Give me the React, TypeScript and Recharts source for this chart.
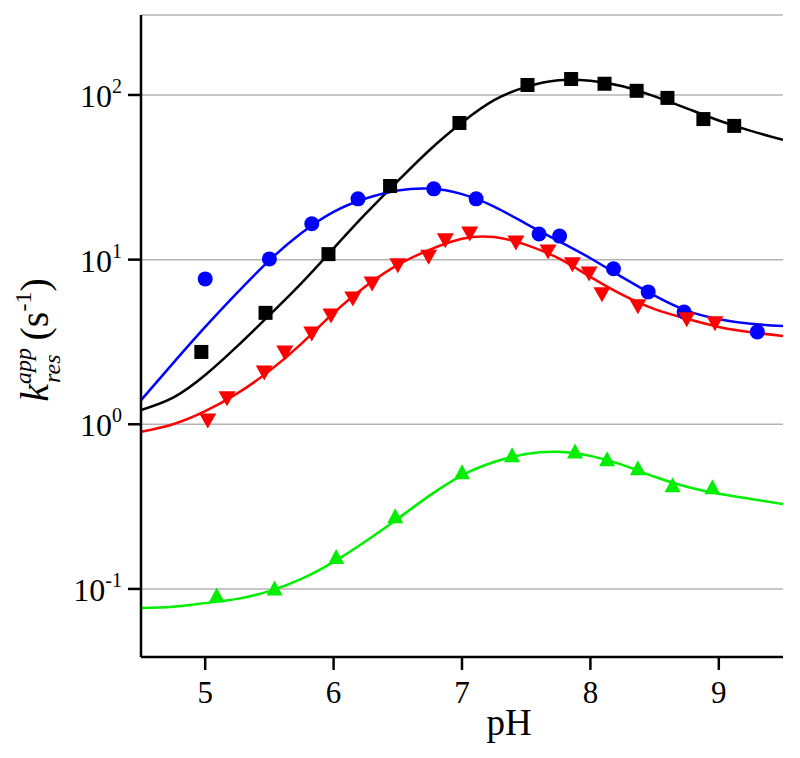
import { ComposedChart, Line, Scatter, XAxis, YAxis, CartesianGrid } from 'recharts';

// pH grid used for the fitted curves
const curvePH = [4.5, 4.75, 5, 5.25, 5.5, 5.75, 6, 6.25, 6.5, 6.75, 7, 7.25, 7.5, 7.75, 8, 8.25, 8.5, 8.75, 9, 9.25, 9.5];

const blackCurve = [1.22, 1.45, 1.99, 2.98, 4.6, 7.2, 11.7, 19, 30, 46.5, 68, 93, 112, 123, 122, 113, 98, 83, 70, 60.5, 53.4];
const blueCurve = [1.4, 2.35, 3.9, 6.3, 9.9, 14.5, 19.5, 23.5, 26.3, 27, 25, 21, 16.5, 13.0, 10.2, 7.8, 6.05, 4.9, 4.35, 4.08, 3.95];
const redCurve = [0.9, 1.0, 1.2, 1.54, 2.11, 3.09, 4.75, 6.9, 9.3, 11.5, 13.4, 13.7, 12.3, 10.2, 7.85, 6.1, 5.0, 4.37, 3.9, 3.62, 3.44];
const greenCurve = [0.0767, 0.078, 0.082, 0.087, 0.097, 0.115, 0.146, 0.195, 0.267, 0.37, 0.49, 0.59, 0.66, 0.68, 0.643, 0.567, 0.48, 0.417, 0.378, 0.352, 0.328];

// measured points
const blackPH = [4.97, 5.47, 5.96, 6.44, 6.98, 7.51, 7.85, 8.11, 8.36, 8.6, 8.88, 9.12];
const blackK = [2.75, 4.75, 10.8, 28, 67.6, 115, 125, 117, 106, 96, 71.4, 64.9];

const bluePH = [5.0, 5.5, 5.83, 6.19, 6.78, 7.11, 7.6, 7.76, 8.18, 8.45, 8.73, 9.3];
const blueK = [7.64, 10.1, 16.5, 23.4, 26.9, 23.4, 14.3, 13.9, 8.8, 6.37, 4.81, 3.64];

const redPH = [5.02, 5.17, 5.46, 5.62, 5.83, 5.98, 6.15, 6.3, 6.5, 6.74, 6.87, 7.06, 7.42, 7.67, 7.86, 7.99, 8.09, 8.37, 8.75, 8.97];
const redK = [1.06, 1.45, 2.08, 2.75, 3.59, 4.61, 5.85, 7.2, 9.3, 10.5, 13.2, 14.5, 12.8, 11.3, 9.43, 8.3, 6.2, 5.24, 4.37, 4.13];

const greenPH = [5.09, 5.54, 6.02, 6.48, 7.0, 7.39, 7.88, 8.13, 8.37, 8.64, 8.95];
const greenK = [0.0907, 0.1, 0.155, 0.274, 0.507, 0.643, 0.679, 0.608, 0.536, 0.423, 0.411];

const xTicks = [5, 6, 7, 8, 9];
const yTicks = [0.1, 1, 10, 100];
const yExp: Record<string, string> = { '0.1': '-1', '1': '0', '10': '1', '100': '2' };

const pairs = (xs: number[], ys: number[]) => xs.map((x, i) => ({ x, y: ys[i] }));

const font = '"Liberation Serif", "Times New Roman", serif';

const YTick = (props: any) => {
  const { x, y, payload } = props;
  return (
    <text x={x} y={y + 12} textAnchor="end" fontFamily={font} fontSize={32} fill="#000">
      10<tspan fontSize={20} dy={-14}>{yExp[String(payload.value)]}</tspan>
    </text>
  );
};

const XTick = (props: any) => {
  const { x, y, payload } = props;
  return (
    <text x={x} y={y + 31} textAnchor="middle" fontFamily={font} fontSize={31} fill="#000">
      {payload.value}
    </text>
  );
};

const Square = (p: any) => <rect x={p.cx - 7} y={p.cy - 7} width={14} height={14} fill="#000" />;
const Dot = (p: any) => <circle cx={p.cx} cy={p.cy} r={7.5} fill="#0000ff" />;
const Down = (p: any) => (
  <path d={`M${p.cx - 8.5},${p.cy - 6.5} L${p.cx + 8.5},${p.cy - 6.5} L${p.cx},${p.cy + 8.5} Z`} fill="#ff0000" />
);
const Up = (p: any) => (
  <path d={`M${p.cx - 8},${p.cy + 6.5} L${p.cx + 8},${p.cy + 6.5} L${p.cx},${p.cy - 8.5} Z`} fill="#00ee00" />
);

export default function App() {
  return (
    <ComposedChart width={790} height={740} margin={{ top: 7, right: 15, bottom: 11, left: 53 }}>
      <CartesianGrid vertical={false} stroke="#b4b4b4" strokeWidth={1.5} />
      <XAxis
        type="number"
        dataKey="x"
        domain={[4.5, 9.5]}
        ticks={xTicks}
        allowDataOverflow
        height={80}
        axisLine={{ stroke: '#000', strokeWidth: 2.5 }}
        tickLine={{ stroke: '#000', strokeWidth: 2.5 }}
        tickSize={13}
        tickMargin={2}
        tick={<XTick />}
        label={{
          content: ({ viewBox }: any) => (
            <text x={viewBox.x + viewBox.width / 2 + 47} y={viewBox.y + 78} textAnchor="middle" fontFamily={font} fontSize={37} fill="#000">
              pH
            </text>
          )
        }}
      />
      <YAxis
        type="number"
        dataKey="y"
        scale="log"
        domain={[0.0386, 306]}
        ticks={yTicks}
        allowDataOverflow
        width={80}
        axisLine={{ stroke: '#000', strokeWidth: 2.5 }}
        tickLine={{ stroke: '#000', strokeWidth: 2.5 }}
        tickSize={13}
        tickMargin={6}
        tick={<YTick />}
        label={{
          content: () => (
            <text x={40} y={332} transform="rotate(-90, 40, 332)" textAnchor="middle" fontFamily={font} fill="#000">
              <tspan fontStyle="italic" fontSize={40}>k</tspan>
              <tspan fontStyle="italic" fontSize={24} dy={-17}>app</tspan>
              <tspan fontStyle="italic" fontSize={24} dx={-35} dy={29}>res</tspan>
              <tspan fontSize={40} dx={14} dy={-12}>(s</tspan>
              <tspan fontSize={24} dy={-17}>-1</tspan>
              <tspan fontSize={40} dy={17}>)</tspan>
            </text>
          )
        }}
      />
      <Line data={pairs(curvePH, blackCurve)} dataKey="y" type="natural" stroke="#000" strokeWidth={2.5} dot={false} isAnimationActive={false} />
      <Line data={pairs(curvePH, blueCurve)} dataKey="y" type="natural" stroke="#0000ff" strokeWidth={2.5} dot={false} isAnimationActive={false} />
      <Line data={pairs(curvePH, redCurve)} dataKey="y" type="natural" stroke="#ff0000" strokeWidth={2.5} dot={false} isAnimationActive={false} />
      <Line data={pairs(curvePH, greenCurve)} dataKey="y" type="natural" stroke="#00ee00" strokeWidth={2.5} dot={false} isAnimationActive={false} />
      <Scatter data={pairs(blackPH, blackK)} dataKey="y" shape={Square} isAnimationActive={false} />
      <Scatter data={pairs(bluePH, blueK)} dataKey="y" shape={Dot} isAnimationActive={false} />
      <Scatter data={pairs(redPH, redK)} dataKey="y" shape={Down} isAnimationActive={false} />
      <Scatter data={pairs(greenPH, greenK)} dataKey="y" shape={Up} isAnimationActive={false} />
    </ComposedChart>
  );
}
